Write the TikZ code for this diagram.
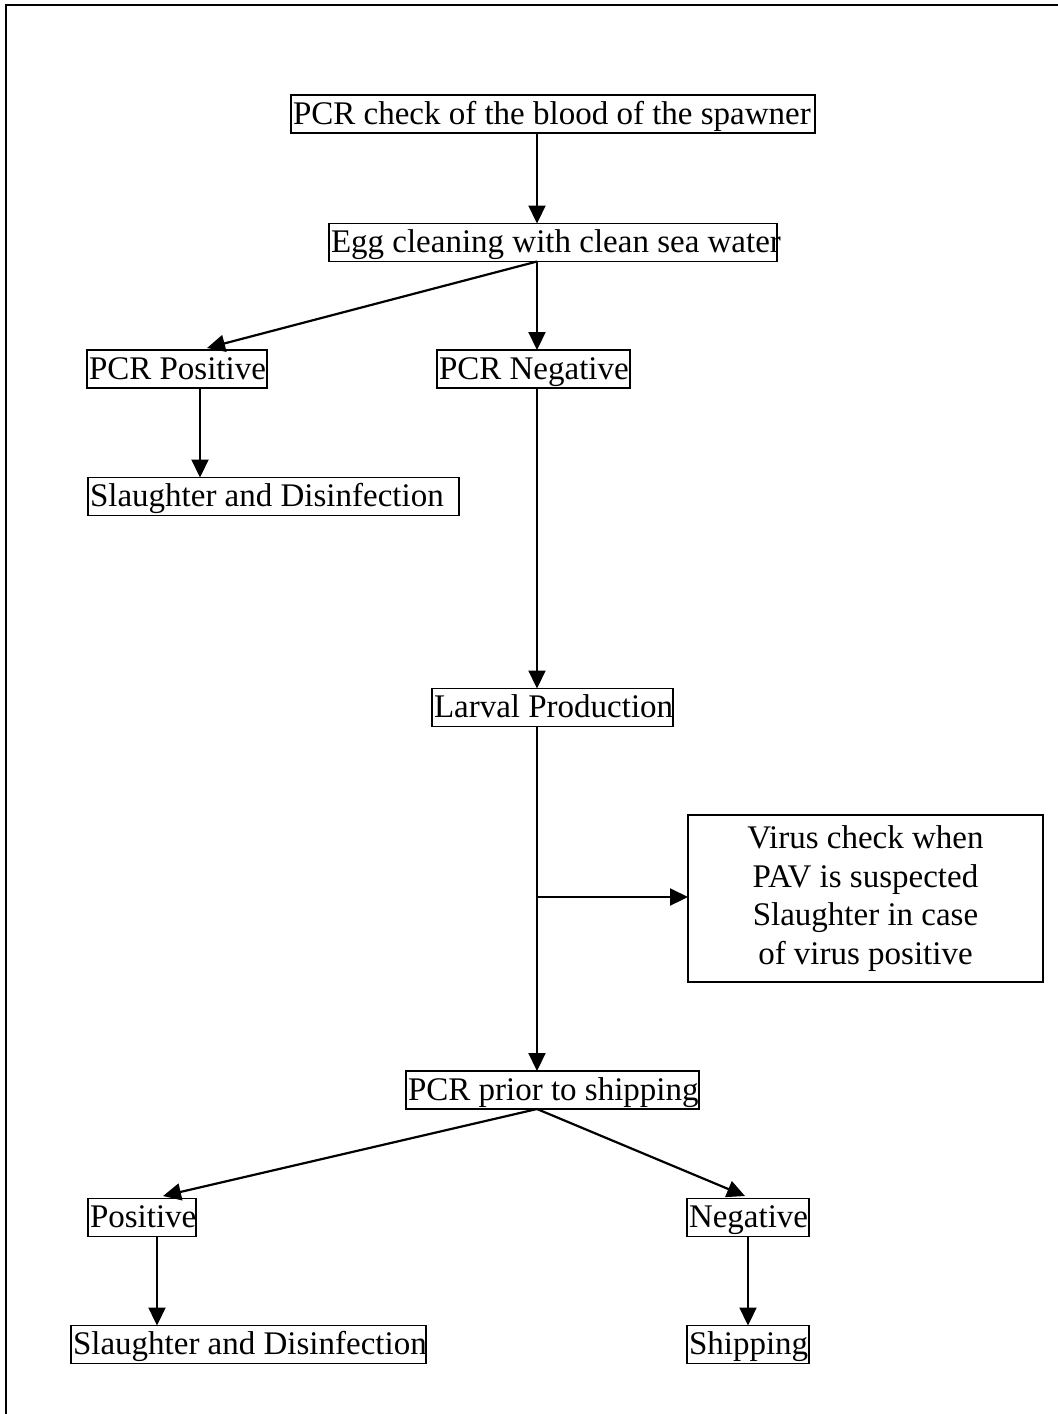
\documentclass[tikz,border=0pt]{standalone}
\usepackage{fontspec}
\setmainfont{Liberation Serif}
\usetikzlibrary{arrows.meta}
\newcommand{\lbox}[2]{\makebox[#1pt][l]{#2}}
\tikzset{
  flowbox/.style={draw, line width=0.75pt, inner xsep=1pt, inner ysep=0pt, outer sep=0pt,
    minimum height=19pt, text height=14.5pt, text depth=4.5pt, font=\fontsize{16.5}{19.35}\selectfont},
  multibox/.style={draw, line width=0.75pt, inner sep=0pt, outer sep=0pt, align=center,
    font=\fontsize{16.5}{19.35}\selectfont},
  arr/.style={-{Triangle[length=9pt,width=8.5pt]}, line width=1.1pt},
  frameline/.style={line width=1pt}
}
\begin{document}
\begin{tikzpicture}[x=0.5pt,y=-0.5pt]
\useasboundingbox (0,0) rectangle (1058,1414);
\draw[frameline] (6,1414) -- (6,5) -- (1058,5);

\node[flowbox] (top) at (553,114) {\lbox{260}{PCR check of the blood of the spawner}};
\node[flowbox] (egg) at (553,242.5) {\lbox{222}{Egg cleaning with clean sea water}};
\node[flowbox] (pos) at (177,369) {\lbox{88}{PCR Positive}};
\node[flowbox] (neg) at (533.5,369) {\lbox{94.5}{PCR Negative}};
\node[flowbox] (sd1) at (273.5,496.5) {\lbox{183.5}{Slaughter and Disinfection}};
\node[flowbox] (larv) at (552.5,707.5) {\lbox{118.5}{Larval Production}};
\node[multibox, minimum width=177.5pt, minimum height=83.5pt] (virus) at (865.5,898.5)
  {\raisebox{1.5pt}{\parbox{170pt}{\centering Virus check when\\PAV is suspected\\Slaughter in case\\of virus positive}}};
\node[flowbox] (prior) at (552.5,1090) {\lbox{144.5}{PCR prior to shipping}};
\node[flowbox] (p2) at (142,1217.5) {\lbox{52}{Positive}};
\node[flowbox] (n2) at (748,1217.5) {\lbox{59}{Negative}};
\node[flowbox] (sd2) at (248.5,1344.5) {\lbox{175.5}{Slaughter and Disinfection}};
\node[flowbox] (ship) at (748,1344.5) {\lbox{59}{Shipping}};

\coordinate (sp) at (537,0);
\coordinate (c1) at (200,0);
\coordinate (c2) at (157,0);
\coordinate (posin) at (207,348);
\coordinate (p2in) at (163,1196);
\coordinate (n2in) at (745,1196);
\coordinate (br) at (537,897);

\draw[arr] (top.south -| sp) -- (egg.north -| sp);
\draw[arr] (egg.south -| sp) -- (neg.north -| sp);
\draw[arr] (egg.south -| sp) -- (posin);
\draw[arr] (pos.south -| c1) -- (sd1.north -| c1);
\draw[arr] (neg.south -| sp) -- (larv.north -| sp);
\draw[arr] (larv.south -| sp) -- (prior.north -| sp);
\draw[arr] (br) -- (virus.west |- br);
\draw[arr] (prior.south -| sp) -- (p2in);
\draw[arr] (prior.south -| sp) -- (n2in);
\draw[arr] (p2.south -| c2) -- (sd2.north -| c2);
\draw[arr] (n2.south) -- (ship.north);
\end{tikzpicture}
\end{document}
